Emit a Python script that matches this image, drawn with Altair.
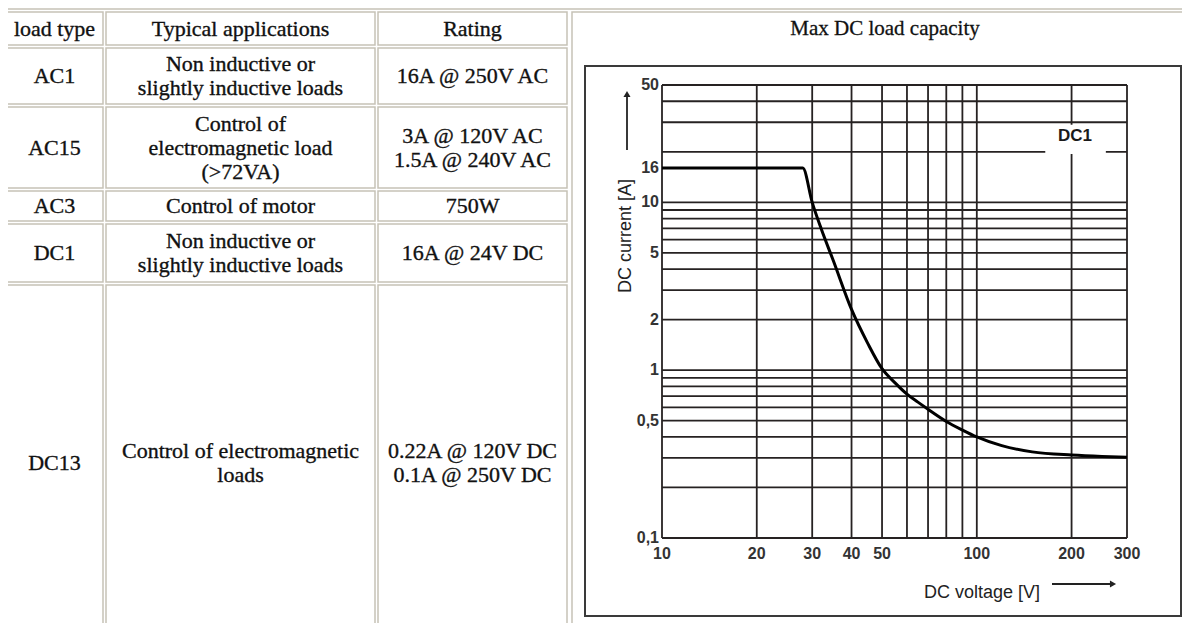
import altair as alt
import pandas as pd

# ---------------- data ----------------
headers = ["load type", "Typical applications", "Rating"]
load_types = ["AC1", "AC15", "AC3", "DC1", "DC13"]
applications = [
    "Non inductive or\nslightly inductive loads",
    "Control of\nelectromagnetic load\n(>72VA)",
    "Control of motor",
    "Non inductive or\nslightly inductive loads",
    "Control of electromagnetic\nloads",
]
ratings = [
    "16A @ 250V AC",
    "3A @ 120V AC\n1.5A @ 240V AC",
    "750W",
    "16A @ 24V DC",
    "0.22A @ 120V DC\n0.1A @ 250V DC",
]
chart_title = "Max DC load capacity"
series_label = "DC1"
x_title = "DC voltage [V]"
y_title = "DC current [A]"

voltage = [10, 28, 30, 32, 35, 40, 45, 50, 55, 60, 65, 70, 80, 90, 100, 120, 150, 200, 250, 300]
current = [16, 16, 10, 7.0, 4.5, 2.3, 1.45, 1.02, 0.84, 0.72, 0.645, 0.585, 0.495, 0.44, 0.40,
           0.355, 0.326, 0.312, 0.306, 0.303]

x_grid = [10, 20, 30, 40, 50, 60, 70, 80, 90, 100, 200, 300]
y_grid = [0.1, 0.2, 0.3, 0.4, 0.5, 0.6, 0.7, 0.8, 0.9,
          1, 2, 3, 4, 5, 6, 7, 8, 9, 10, 20, 30, 40, 50]
x_ticks = [10, 20, 30, 40, 50, 100, 200, 300]
x_tick_labels = ["10", "20", "30", "40", "50", "100", "200", "300"]
y_ticks = [50, 16, 10, 5, 2, 1, 0.5, 0.1]
y_tick_labels = ["50", "16", "10", "5", "2", "1", "0,5", "0,1"]

# ---------------- layout (page pixels) ----------------
COL_X = [(6, 103), (106, 375), (378, 567)]
ROW_Y = [(12, 45), (48, 104), (107, 188), (191, 221), (224, 282), (285, 640)]
CHART_CELL = (572, 1200, 12, 640)
BOX = (585, 1181, 66, 616)
LINE_H = 24
BORDER = "#c6c2b6"
GRID = "#262222"
SERIF = "Liberation Serif"
SANS = "Liberation Sans"

W, H = 1174, 615
LX = alt.Scale(domain=[8, 8 + W], range=[0, W], nice=False, zero=False)
LY = alt.Scale(domain=[8, 8 + H], range=[0, H], nice=False, zero=False)
VX = alt.Scale(type="log", domain=[10, 300], range=[662 - 8, 1127 - 8], nice=False)
VY = alt.Scale(type="log", domain=[0.1, 50], range=[538 - 8, 85 - 8], nice=False)


def lx(f):
    return alt.X(f, scale=LX, axis=None)


def ly(f):
    return alt.Y(f, scale=LY, axis=None)


def vx(f):
    return alt.X(f, scale=VX, axis=None)


def vy(f):
    return alt.Y(f, scale=VY, axis=None)


# ---------------- table ----------------
cells = []
for (y0, y1) in ROW_Y:
    for (x0, x1) in COL_X:
        cells.append({"x0": x0, "x1": x1, "y0": y0, "y1": y1})
cells.append({"x0": CHART_CELL[0], "x1": CHART_CELL[1], "y0": CHART_CELL[2], "y1": CHART_CELL[3]})
cells_df = pd.DataFrame(cells)


def first_line_y(t, cy):
    n = t.count("\n") + 1
    return cy - (n - 1) * LINE_H / 2


texts = []
for c, h in enumerate(headers):
    cy = sum(ROW_Y[0]) / 2
    texts.append({"t": h, "cx": sum(COL_X[c]) / 2, "cy": first_line_y(h, cy)})
for i in range(len(load_types)):
    cy = sum(ROW_Y[i + 1]) / 2
    for c, t in enumerate([load_types[i], applications[i], ratings[i]]):
        texts.append({"t": t, "cx": sum(COL_X[c]) / 2, "cy": first_line_y(t, cy)})
texts_df = pd.DataFrame(texts)

outer = alt.Chart(pd.DataFrame([{"x0": 3, "x1": 1210, "y0": 9, "y1": 650}])).mark_rect(
    fill="white", stroke=BORDER, strokeWidth=1.5
).encode(x=lx("x0:Q"), x2="x1:Q", y=ly("y0:Q"), y2="y1:Q")

cell_layer = alt.Chart(cells_df).mark_rect(
    fill="white", stroke=BORDER, strokeWidth=1.5
).encode(x=lx("x0:Q"), x2="x1:Q", y=ly("y0:Q"), y2="y1:Q")

text_layer = alt.Chart(texts_df).mark_text(
    font=SERIF, fontSize=22, lineBreak="\n", lineHeight=LINE_H,
    align="center", baseline="middle", color="#111", stroke="#111", strokeWidth=0.35
).encode(x=lx("cx:Q"), y=ly("cy:Q"), text="t:N")

title_layer = alt.Chart(pd.DataFrame([{"t": chart_title, "cx": 885, "cy": 28.5}])).mark_text(
    font=SERIF, fontSize=21, align="center", baseline="middle", color="#111",
    stroke="#111", strokeWidth=0.3
).encode(x=lx("cx:Q"), y=ly("cy:Q"), text="t:N")

box_layer = alt.Chart(pd.DataFrame([{"x0": BOX[0], "x1": BOX[1], "y0": BOX[2], "y1": BOX[3]}])).mark_rect(
    fillOpacity=0, stroke="#3a3a3a", strokeWidth=2
).encode(x=lx("x0:Q"), x2="x1:Q", y=ly("y0:Q"), y2="y1:Q")

# ---------------- log chart ----------------
vgrid_df = pd.DataFrame({"v": x_grid, "lo": [0.1] * len(x_grid), "hi": [50] * len(x_grid)})
hgrid_df = pd.DataFrame({"i": y_grid, "lo": [10] * len(y_grid), "hi": [300] * len(y_grid)})

vgrid = alt.Chart(vgrid_df).mark_rule(color=GRID, strokeWidth=1.8).encode(
    x=vx("v:Q"), y=vy("lo:Q"), y2="hi:Q")
hgrid = alt.Chart(hgrid_df).mark_rule(color=GRID, strokeWidth=1.8).encode(
    y=vy("i:Q"), x=vx("lo:Q"), x2="hi:Q")

label_box = alt.Chart(pd.DataFrame([{"x0": 165, "x1": 257, "y0": 19.4, "y1": 29}])).mark_rect(
    fill="white").encode(x=vx("x0:Q"), x2="x1:Q", y=vy("y0:Q"), y2="y1:Q")
label_txt = alt.Chart(pd.DataFrame([{"t": series_label, "v": 205, "i": 24.8}])).mark_text(
    font=SANS, fontSize=17, fontWeight="bold", align="center", baseline="middle", color="#1a1a1a"
).encode(x=vx("v:Q"), y=vy("i:Q"), text="t:N")

curve = alt.Chart(pd.DataFrame({"v": voltage, "i": current})).mark_line(
    color="black", strokeWidth=3, interpolate="monotone"
).encode(x=vx("v:Q"), y=vy("i:Q"))

ylab_df = pd.DataFrame({"i": y_ticks, "t": y_tick_labels, "v": [10] * len(y_ticks)})
ylab = alt.Chart(ylab_df).mark_text(
    font=SANS, fontSize=16, fontWeight="bold", align="right", baseline="middle", dx=-3, color="#333"
).encode(x=vx("v:Q"), y=vy("i:Q"), text="t:N")

xlab_df = pd.DataFrame({"v": x_ticks, "t": x_tick_labels, "i": [0.1] * len(x_ticks)})
xlab = alt.Chart(xlab_df).mark_text(
    font=SANS, fontSize=16, fontWeight="bold", align="center", baseline="middle", dy=16, color="#333"
).encode(x=vx("v:Q"), y=vy("i:Q"), text="t:N")

ytitle = alt.Chart(pd.DataFrame([{"t": y_title, "cx": 626, "cy": 236}])).mark_text(
    font=SANS, fontSize=18, angle=270, align="center", baseline="middle", color="#222"
).encode(x=lx("cx:Q"), y=ly("cy:Q"), text="t:N")
xtitle = alt.Chart(pd.DataFrame([{"t": x_title, "cx": 982, "cy": 593}])).mark_text(
    font=SANS, fontSize=18, align="center", baseline="middle", color="#222"
).encode(x=lx("cx:Q"), y=ly("cy:Q"), text="t:N")

arrows_df = pd.DataFrame([
    {"x0": 627, "x1": 627, "y0": 150, "y1": 97},
    {"x0": 1052, "x1": 1110, "y0": 584, "y1": 584},
])
arrow_lines = alt.Chart(arrows_df).mark_rule(color="#222", strokeWidth=1.8).encode(
    x=lx("x0:Q"), x2="x1:Q", y=ly("y0:Q"), y2="y1:Q")
heads_df = pd.DataFrame([
    {"x": 627, "y": 94, "s": "triangle-up"},
    {"x": 1113, "y": 584, "s": "triangle-right"},
])
arrow_heads = alt.Chart(heads_df).mark_point(filled=True, color="#222", size=50, opacity=1).encode(
    x=lx("x:Q"), y=ly("y:Q"), shape=alt.Shape("s:N", scale=None, legend=None))

chart = alt.layer(
    outer, cell_layer, text_layer, title_layer, box_layer,
    vgrid, hgrid, label_box, label_txt, curve, ylab, xlab,
    ytitle, xtitle, arrow_lines, arrow_heads,
).resolve_scale(x="independent", y="independent").properties(
    width=W, height=H, padding=0, background="white",
    autosize=alt.AutoSizeParams(type="none"),
).configure_view(stroke=None)

chart.save("out.html", embed_options={"renderer": "svg", "actions": False})
